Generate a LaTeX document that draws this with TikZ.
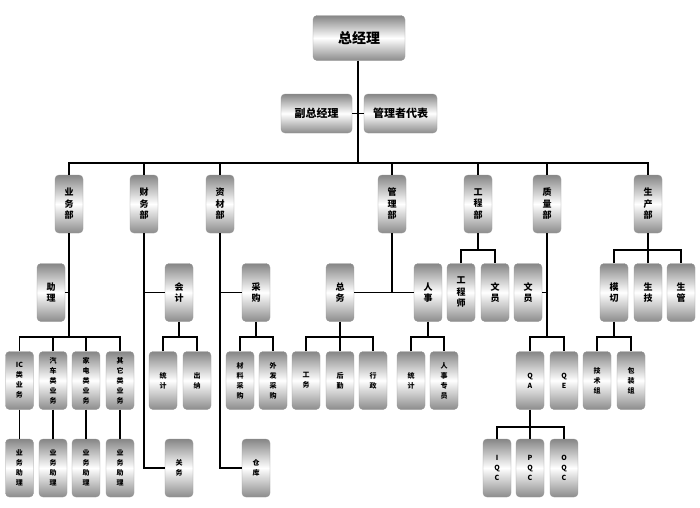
\documentclass[tikz,border=0pt]{standalone}
\usepackage{fontspec}
\newfontfamily\cjk{Noto Sans CJK SC}
\usetikzlibrary{calc}

\begin{document}
\begin{tikzpicture}[
  x=1pt, y=-1pt,
  box/.style={rectangle, draw=gray!80, rounded corners=4pt,
              shading=axis, top color=gray!95, bottom color=gray!90,
              middle color=white, inner sep=0pt, align=center},
  boss/.style={box, minimum width=92pt, minimum height=45pt,
               font=\cjk\bfseries\fontsize{14}{16}\selectfont},
  vice/.style={box, minimum height=39pt,
               font=\cjk\bfseries\fontsize{11}{13}\selectfont},
  dept/.style={box, minimum width=28pt, minimum height=58pt,
               font=\cjk\bfseries\fontsize{9}{11.5}\selectfont},
  unit/.style={box, minimum width=28pt, minimum height=58pt,
               font=\cjk\bfseries\fontsize{7}{10}\selectfont},
  link/.style={draw, line width=1.8pt}
]
\useasboundingbox (0,0) rectangle (700,507);
% top level
\node[boss] (gm) at (359,38) {总经理};
\node[vice, minimum width=71pt] (vp) at (316.5,113.5) {副总经理};
\node[vice, minimum width=73pt] (mr) at (400.5,113.5) {管理者代表};
\coordinate (bus) at (358,163);
% departments
\node[dept] (yw) at (69,204)  {业\\务\\部};
\node[dept] (cw) at (144,204) {财\\务\\部};
\node[dept] (zc) at (220,204) {资\\材\\部};
\node[dept] (gl) at (392,204) {管\\理\\部};
\node[dept] (gc) at (478,204) {工\\程\\部};
\node[dept] (zl) at (547,204) {质\\量\\部};
\node[dept] (sc) at (648,204) {生\\产\\部};
% second row
\node[dept] (zhl) at (51,292.5)  {助\\理};
\node[dept] (kj)  at (179,292.5) {会\\计};
\node[dept] (cg)  at (256,292.5) {采\\购};
\node[dept] (zw)  at (340,292.5) {总\\务};
\node[dept] (rs)  at (428,292.5) {人\\事};
\node[dept] (gcs) at (461,292.5) {工\\程\\师};
\node[dept] (wy1) at (495,292.5) {文\\员};
\node[dept] (wy2) at (528,292.5) {文\\员};
\node[dept] (mq)  at (614,292.5) {模\\切};
\node[dept] (sj)  at (648,292.5) {生\\技};
\node[dept] (sg)  at (681,292.5) {生\\管};
% third row
\node[unit] (ic) at (19.5,380.5) {IC\\类\\业\\务};
\node[unit] (qc) at (53,380.5)   {汽\\车\\类\\业\\务};
\node[unit] (jd) at (86,380.5)   {家\\电\\类\\业\\务};
\node[unit] (qt) at (120,380.5)  {其\\它\\类\\业\\务};
\node[unit] (tj1) at (163,380.5) {统\\计};
\node[unit] (cn)  at (197,380.5) {出\\纳};
\node[unit] (cl)  at (240,380.5) {材\\料\\采\\购};
\node[unit] (wf)  at (273,380.5) {外\\发\\采\\购};
\node[unit] (gw)  at (306,380.5) {工\\务};
\node[unit] (hq)  at (340,380.5) {后\\勤};
\node[unit] (xz)  at (373,380.5) {行\\政};
\node[unit] (tj2) at (411,380.5) {统\\计};
\node[unit] (rz)  at (444,380.5) {人\\事\\专\\员};
\node[unit] (qa)  at (530,380.5) {Q\\A};
\node[unit] (qe)  at (564,380.5) {Q\\E};
\node[unit] (js)  at (597,380.5) {技\\术\\组};
\node[unit] (bz)  at (631,380.5) {包\\装\\组};
% fourth row
\node[unit] (ic2) at (19.5,468) {业\\务\\助\\理};
\node[unit] (qc2) at (53,468)   {业\\务\\助\\理};
\node[unit] (jd2) at (86,468)   {业\\务\\助\\理};
\node[unit] (qt2) at (120,468)  {业\\务\\助\\理};
\node[unit] (gwu) at (179,468)  {关\\务};
\node[unit] (ck)  at (256,468)  {仓\\库};
\node[unit] (iqc) at (497,468)  {I\\Q\\C};
\node[unit] (pqc) at (530,468)  {P\\Q\\C};
\node[unit] (oqc) at (564,468)  {O\\Q\\C};
% top links
\draw[link] (gm.south -| bus) -- (bus);
\draw[link] (vp.east) -- (mr.west);
\draw[link] (yw.north) -- (yw.north |- bus) -- (sc.north |- bus) -- (sc.north);
\foreach \d in {cw,zc,gl,gc,zl}
  \draw[link] (\d.north) -- (\d.north |- bus);
% 业务部
\draw[link] (yw.south) -- ($(yw.south)+(0,105)$);
\draw[link] (zhl.east) -- (zhl.east -| yw.south);
\draw[link] (ic.north) -- ++(0,-14) -| (qt.north);
\foreach \k in {qc,jd}
  \draw[link] (\k.north) -- ++(0,-14);
\foreach \k in {ic,qc,jd,qt}
  \draw[link] (\k.south) -- (\k2.north);
% 财务部 / 资材部
\foreach \d/\a/\b in {cw/kj/gwu,zc/cg/ck}{
  \draw[link] (\d.south) |- (\b.west);
  \draw[link] (\a.west) -- (\a.west -| \d.south);
}
\draw[link] (kj.south) -- ++(0,16);
\draw[link] (tj1.north) -- ++(0,-14) -| (cn.north);
\draw[link] (cg.south) -- ++(0,16);
\draw[link] (cl.north) -- ++(0,-14) -| (wf.north);
% 管理部
\draw[link] (gl.south) -- (gl.south |- zw.east);
\draw[link] (zw.east) -- (rs.west);
\draw[link] (zw.south) -- ++(0,16);
\draw[link] (gw.north) -- ++(0,-14) -| (xz.north);
\draw[link] (hq.north) -- ++(0,-14);
\draw[link] (rs.south) -- ++(0,16);
\draw[link] (tj2.north) -- ++(0,-14) -| (rz.north);
% 工程部
\draw[link] (gc.south) -- ++(0,17);
\draw[link] (gcs.north) -- ++(0,-13) -| (wy1.north);
% 质量部
\draw[link] (zl.south) -- ($(zl.south)+(0,105)$);
\draw[link] (wy2.east) -- (wy2.east -| zl.south);
\draw[link] (qa.north) -- ++(0,-14) -| (qe.north);
\draw[link] (qa.south) -- ++(0,18);
\draw[link] (iqc.north) -- ++(0,-12) -| (oqc.north);
\draw[link] (pqc.north) -- ++(0,-12);
% 生产部
\draw[link] (sc.south) -- ++(0,17);
\draw[link] (mq.north) -- ++(0,-13) -| (sg.north);
\draw[link] (sj.north) -- ++(0,-13);
\draw[link] (mq.south) -- ++(0,16);
\draw[link] (js.north) -- ++(0,-14) -| (bz.north);
\end{tikzpicture}
\end{document}
